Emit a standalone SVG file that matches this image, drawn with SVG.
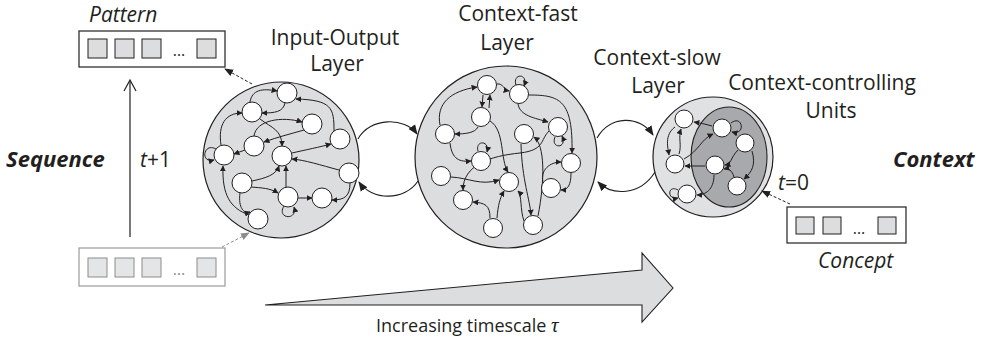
<svg xmlns="http://www.w3.org/2000/svg" width="988" height="343" viewBox="0 0 988 343">
<defs>
<style>
.t{font-family:"Open Sans","Liberation Sans",sans-serif;font-size:21px;fill:#231f20}
.it{font-style:italic}
.bi{font-style:italic;font-weight:bold;font-size:22px}
.dots{font-size:16px}
.layer{fill:#dcddde;stroke:#231f20;stroke-width:1.2}
.nd{fill:#fff;stroke:#231f20;stroke-width:1}
.e{fill:none;stroke:#231f20;stroke-width:1;marker-end:url(#ah)}
.big{fill:none;stroke:#231f20;stroke-width:1.1;marker-end:url(#ahb)}
.sq{fill:#dcddde;stroke:#231f20;stroke-width:1}
.sqg{fill:#e4e5e6;stroke:#8c8c8c;stroke-width:1}
</style>
<marker id="ah" viewBox="0 0 10 10" refX="9" refY="5" markerWidth="6" markerHeight="6" markerUnits="userSpaceOnUse" orient="auto"><path d="M0,0 L10,5 L0,10 z" fill="#231f20"/></marker>
<marker id="ahb" viewBox="0 0 10 10" refX="9" refY="5" markerWidth="10" markerHeight="10" markerUnits="userSpaceOnUse" orient="auto"><path d="M0,1 L10,5 L0,9 z" fill="#231f20"/></marker>
<marker id="ahg" viewBox="0 0 10 10" refX="9" refY="5" markerWidth="9" markerHeight="9" markerUnits="userSpaceOnUse" orient="auto"><path d="M0,1 L10,5 L0,9 z" fill="#8c8c8c"/></marker>
<marker id="ahk" viewBox="0 0 10 10" refX="9" refY="5" markerWidth="9" markerHeight="9" markerUnits="userSpaceOnUse" orient="auto"><path d="M0,1 L10,5 L0,9 z" fill="#231f20"/></marker>
</defs>
<rect width="988" height="343" fill="#fff"/>

<g id="labels">
<text class="t it" x="89" y="22">Pattern</text>
<text class="t bi" x="6" y="167">Sequence</text>
<text class="t" x="140" y="167"><tspan font-style="italic">t</tspan>+1</text>
<text class="t" x="335" y="45" text-anchor="middle">Input-Output</text>
<text class="t" x="337" y="71" text-anchor="middle">Layer</text>
<text class="t" x="518" y="21" text-anchor="middle">Context-fast</text>
<text class="t" x="507" y="50" text-anchor="middle">Layer</text>
<text class="t" x="657" y="65" text-anchor="middle">Context-slow</text>
<text class="t" x="658" y="93" text-anchor="middle">Layer</text>
<text class="t" x="822" y="90" text-anchor="middle">Context-controlling</text>
<text class="t" x="831" y="118" text-anchor="middle">Units</text>
<text class="t bi" x="893" y="167">Context</text>
<text class="t" x="778" y="190"><tspan font-style="italic">t</tspan>=0</text>
<text class="t it" x="818" y="268">Concept</text>
<text class="t" x="376" y="332" style="font-size:18px">Increasing timescale <tspan style="font-family:'Liberation Serif',serif;font-style:italic;font-size:21px">τ</tspan></text>
</g>

<g id="pattern">
<rect x="79" y="31" width="146" height="36" fill="#fff" stroke="#231f20" stroke-width="1.2"/>
<rect class="sq" x="88" y="39" width="19" height="19"/>
<rect class="sq" x="115" y="39" width="19" height="19"/>
<rect class="sq" x="142" y="39" width="19" height="19"/>
<text class="t dots" x="179" y="56" text-anchor="middle">…</text>
<rect class="sq" x="197" y="39" width="19" height="19"/>
</g>

<g id="input">
<rect x="79" y="248" width="146" height="38" fill="#fff" stroke="#9a9a9a" stroke-width="1.2"/>
<rect class="sqg" x="88" y="258" width="19" height="19"/>
<rect class="sqg" x="115" y="258" width="19" height="19"/>
<rect class="sqg" x="142" y="258" width="19" height="19"/>
<text class="t dots" x="179" y="275" text-anchor="middle" style="fill:#8c8c8c">…</text>
<rect class="sqg" x="197" y="258" width="19" height="19"/>
</g>

<g id="concept">
<rect x="787" y="207" width="119" height="36" fill="#fff" stroke="#231f20" stroke-width="1.2"/>
<rect class="sq" x="796" y="217" width="18" height="17"/>
<rect class="sq" x="823" y="217" width="18" height="17"/>
<text class="t dots" x="859" y="234" text-anchor="middle">…</text>
<rect class="sq" x="878" y="217" width="18" height="17"/>
</g>

<g id="timescale">
<polygon points="265,305 642,270 642,253 673,288 642,322 642,305" fill="#dcddde" stroke="#231f20" stroke-width="1.1"/>
</g>

<g id="io-layer"><circle class="layer" cx="281" cy="160" r="78"/></g>
<g id="cf-layer"><circle class="layer" cx="506" cy="157" r="91"/></g>
<g id="cs-layer"><circle class="layer" cx="713" cy="157" r="60" style="fill:#e0e1e2"/></g>
<g id="cc-units"><ellipse cx="729" cy="157" rx="38" ry="50" fill="#a7a9ac" stroke="#231f20" stroke-width="1.1"/></g>

<g id="connectors">
<line x1="130" y1="237" x2="130" y2="81" stroke="#231f20" stroke-width="1.2"/>
<path d="M124,91 L130,80 L136,91" fill="none" stroke="#231f20" stroke-width="1.2"/>
<path d="M252,84 L225,69" fill="none" stroke="#231f20" stroke-width="1" stroke-dasharray="3,2" marker-end="url(#ahk)"/>
<path d="M222,247 L249,233" fill="none" stroke="#8c8c8c" stroke-width="1" stroke-dasharray="3,2" marker-end="url(#ahg)"/>
<path d="M790,204 L762,191" fill="none" stroke="#231f20" stroke-width="1" stroke-dasharray="3,2" marker-end="url(#ahk)"/>

<path class="big" d="M358,139 C370,117 405,117 417,134"/>
<path class="big" d="M418,181 C405,201 372,201 359,182"/>
<path class="big" d="M597,138 C610,115 640,115 653,135"/>
<path class="big" d="M655,172 C640,196 612,196 598,182"/>

<path class="e" d="M250,102 C252,90 262,88 277,91"/>
<path class="e" d="M285,103 C283,112 275,113 262,113"/>
<path class="e" d="M221,145 C218,125 225,113 242,113"/>
<path class="e" d="M260,119 C272,128 282,130 282,146"/>
<path class="e" d="M254,136 C256,120 282,116 302,122"/>
<path class="e" d="M304,130 C290,134 278,137 264,142"/>
<path class="e" d="M334,131 C334,108 332,100 296,99"/>
<path class="e" d="M292,153 C305,150 320,147 331,144"/>
<path class="e" d="M339,170 C320,165 305,160 292,159"/>
<path class="e" d="M245,150 L234,154"/>
<path class="e" d="M216,149 C203,142 200,164 214,160"/>
<path class="e" d="M249,215 C230,208 222,195 223,166"/>
<path class="e" d="M240,193 C238,208 244,214 250,212"/>
<path class="e" d="M252,181 C266,178 276,175 279,166"/>
<path class="e" d="M251,187 C262,188 270,188 278,193"/>
<path class="e" d="M286,187 L286,166"/>
<path class="e" d="M298,198 L312,198"/>
<path class="e" d="M350,183 C350,196 345,200 332,200"/>
<path class="e" d="M284,206 C276,219 298,221 294,207"/>

<path class="e" d="M440,125 C436,104 450,91 477,87"/>
<path class="e" d="M483,95 L482,107"/>
<path class="e" d="M489,108 L490,95"/>
<path class="e" d="M497,84 C503,83 504,90 509,91"/>
<path class="e" d="M516,85 C512,73 529,73 524,86"/>
<path class="e" d="M518,104 C520,116 535,118 548,122"/>
<path class="e" d="M529,95 C560,95 573,100 572,153"/>
<path class="e" d="M478,127 C475,133 465,134 455,134"/>
<path class="e" d="M450,143 C452,160 460,162 471,161"/>
<path class="e" d="M478,151 C475,140 490,140 487,152"/>
<path class="e" d="M490,121 C505,130 500,160 508,172"/>
<path class="e" d="M538,216 C545,180 545,145 534,137"/>
<path class="e" d="M521,144 C522,180 530,200 531,215"/>
<path class="e" d="M549,131 C540,140 545,150 520,153 C490,156 463,165 463,190"/>
<path class="e" d="M555,137 C550,149 568,149 562,136"/>
<path class="e" d="M451,177 C470,178 480,186 499,180"/>
<path class="e" d="M490,218 C490,205 485,203 473,202"/>
<path class="e" d="M497,218 C498,205 500,198 504,191"/>
<path class="e" d="M524,221 C520,210 522,195 518,191"/>
<path class="e" d="M571,173 C571,185 568,190 561,190"/>
<path class="e" d="M543,182 C540,170 550,162 561,162"/>

<path class="e" d="M731,123 C743,114 746,136 732,132"/>
<path class="e" d="M712,126 C705,124 700,123 694,122"/>
<path class="e" d="M679,154 C682,145 678,138 681,129"/>
<path class="e" d="M675,127 C664,135 668,148 669,155"/>
<path class="e" d="M705,166 L685,166"/>
<path class="e" d="M684,159 C700,150 700,140 713,134"/>
<path class="e" d="M738,150 C730,158 732,164 725,165"/>
<path class="e" d="M734,177 C732,170 728,168 724,169"/>
<path class="e" d="M714,175 C714,190 705,195 697,195"/>
<path class="e" d="M678,190 C667,184 667,201 678,198"/>
<path class="e" d="M752,151 C756,165 752,172 744,179"/>
</g>

<g id="io-n1"><circle class="nd" cx="287" cy="93" r="10"/></g>
<g id="io-n2"><circle class="nd" cx="252" cy="112" r="10"/></g>
<g id="io-n3"><circle class="nd" cx="312" cy="124" r="10"/></g>
<g id="io-n4"><circle class="nd" cx="340" cy="139" r="10"/></g>
<g id="io-n5"><circle class="nd" cx="254" cy="146" r="10"/></g>
<g id="io-n6"><circle class="nd" cx="224" cy="155" r="10"/></g>
<g id="io-n7"><circle class="nd" cx="282" cy="156" r="10"/></g>
<g id="io-n8"><circle class="nd" cx="349" cy="173" r="10"/></g>
<g id="io-n9"><circle class="nd" cx="242" cy="183" r="10"/></g>
<g id="io-n10"><circle class="nd" cx="288" cy="197" r="10"/></g>
<g id="io-n11"><circle class="nd" cx="322" cy="198" r="10"/></g>
<g id="io-n12"><circle class="nd" cx="258" cy="219" r="10"/></g>

<g id="cf-n1"><circle class="nd" cx="487" cy="85" r="9.5"/></g>
<g id="cf-n2"><circle class="nd" cx="519" cy="94" r="9.5"/></g>
<g id="cf-n3"><circle class="nd" cx="481" cy="117" r="9.5"/></g>
<g id="cf-n4"><circle class="nd" cx="445" cy="134" r="9.5"/></g>
<g id="cf-n5"><circle class="nd" cx="524" cy="134" r="9.5"/></g>
<g id="cf-n6"><circle class="nd" cx="558" cy="127" r="9.5"/></g>
<g id="cf-n7"><circle class="nd" cx="481" cy="161" r="9.5"/></g>
<g id="cf-n8"><circle class="nd" cx="571" cy="163" r="9.5"/></g>
<g id="cf-n9"><circle class="nd" cx="441" cy="176" r="9.5"/></g>
<g id="cf-n10"><circle class="nd" cx="509" cy="182" r="9.5"/></g>
<g id="cf-n11"><circle class="nd" cx="551" cy="188" r="9.5"/></g>
<g id="cf-n12"><circle class="nd" cx="463" cy="200" r="9.5"/></g>
<g id="cf-n13"><circle class="nd" cx="493" cy="228" r="9.5"/></g>
<g id="cf-n14"><circle class="nd" cx="533" cy="225" r="9.5"/></g>

<g id="cs-n1"><circle class="nd" cx="684" cy="119" r="9"/></g>
<g id="cs-n2"><circle class="nd" cx="722" cy="128" r="9"/></g>
<g id="cs-n3"><circle class="nd" cx="745" cy="143" r="9"/></g>
<g id="cs-n4"><circle class="nd" cx="675" cy="164" r="9"/></g>
<g id="cs-n5"><circle class="nd" cx="715" cy="165" r="9"/></g>
<g id="cs-n6"><circle class="nd" cx="737" cy="186" r="9"/></g>
<g id="cs-n7"><circle class="nd" cx="687" cy="194" r="9"/></g>
</svg>
